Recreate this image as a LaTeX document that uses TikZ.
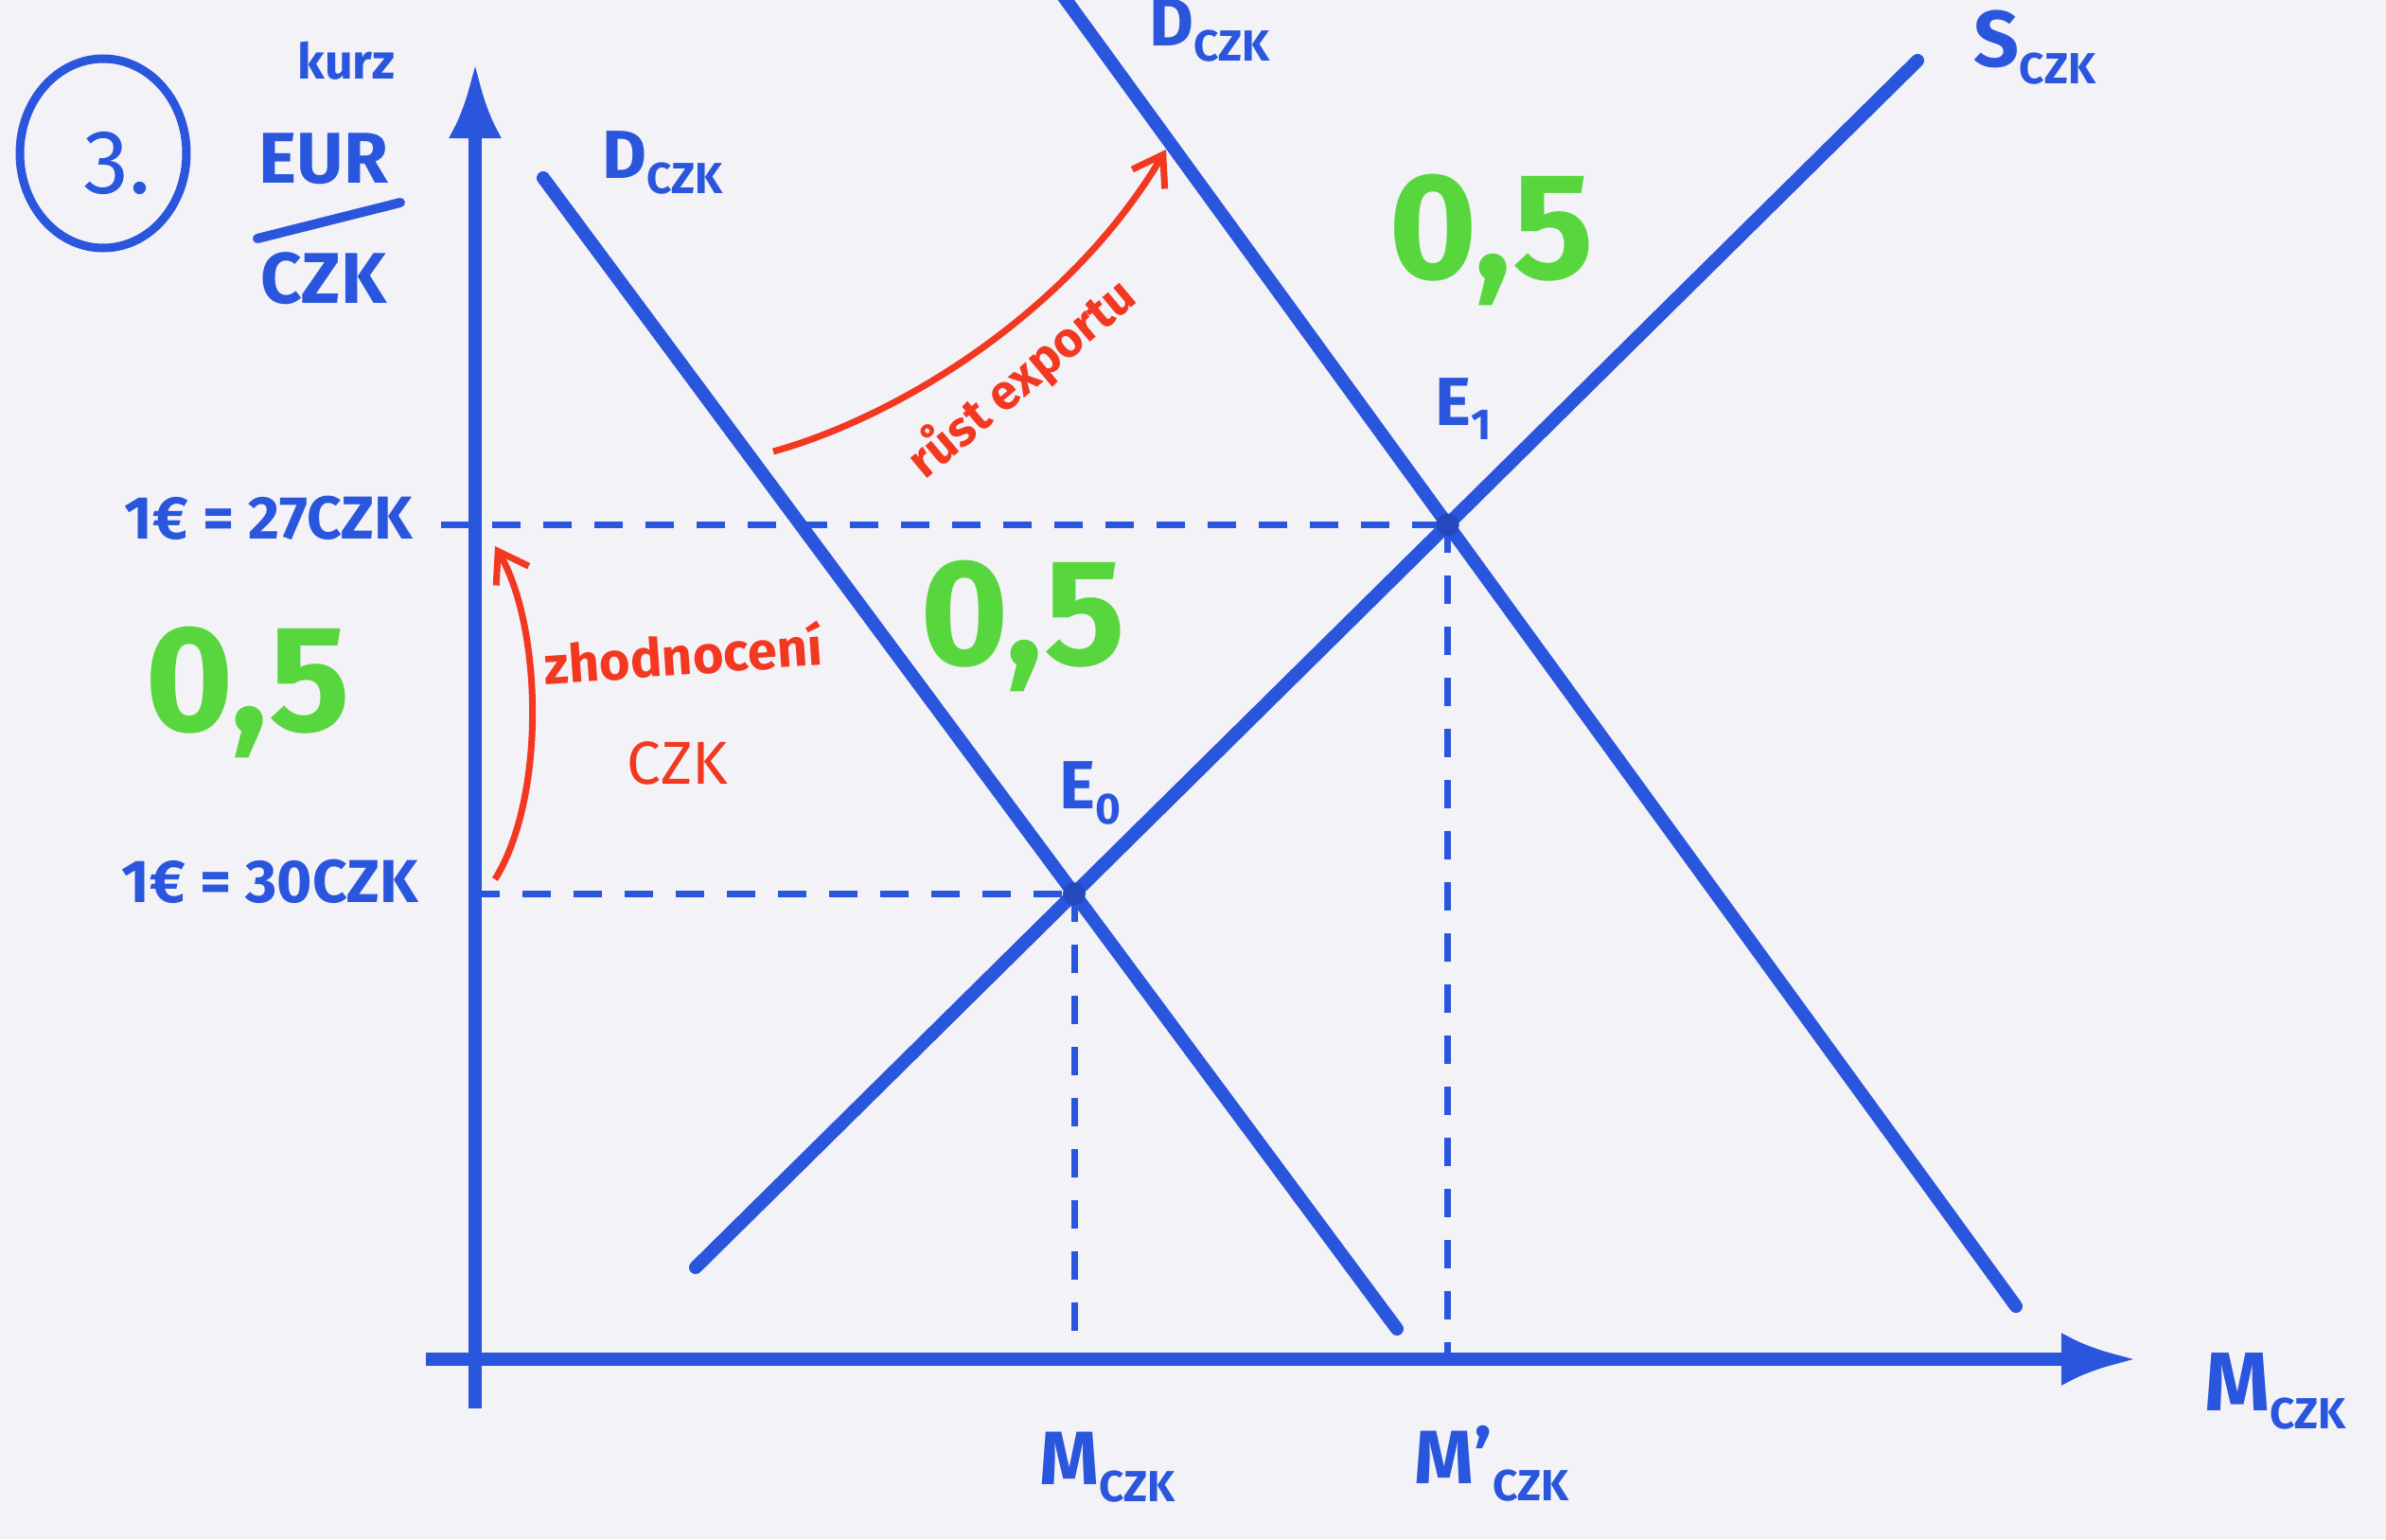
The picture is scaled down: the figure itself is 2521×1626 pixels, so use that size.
\documentclass[tikz,border=0pt]{standalone}
\usepackage{fontspec}
\setmainfont{Fira Sans}
\usetikzlibrary{arrows.meta,calc}
\definecolor{ink}{RGB}{42,86,222}
\definecolor{grn}{RGB}{88,214,62}
\definecolor{rd}{RGB}{242,56,32}
\definecolor{paper}{RGB}{243,242,246}
\newcommand{\lowtxt}[1]{\raisebox{-0.22em}{\fontsize{46}{50}\selectfont #1}}
\begin{document}
\begin{tikzpicture}[x=1pt,y=-1pt,
  curve/.style={ink, line width=14pt, line cap=round},
  axis/.style={ink, line width=14pt, -{Latex[length=80pt,width=56pt]}},
  guide/.style={ink, line width=7pt, dash pattern=on 30pt off 24pt},
  lbl/.style={text=ink, font=\fontsize{72}{80}\selectfont\bfseries, inner sep=0pt},
  half/.style={text=grn, font=\fontsize{160}{170}\selectfont\bfseries, inner sep=0pt},
  note/.style={text=rd, font=\fontsize{56}{60}\selectfont\bfseries, inner sep=0pt},
  redarr/.style={rd, line width=7pt, -{Straight Barb[length=30pt,width=40pt,line width=7pt]}},
  dot/.style={circle, fill=ink!85!black, inner sep=0pt, minimum size=24pt}]
\fill[paper] (0,0) rectangle (2521,1626);
\useasboundingbox (0,0) rectangle (2521,1626);

% axes
\coordinate (ybot) at (502,1488);
\coordinate (ytop) at (502,66);
\coordinate (xl) at (450,1436);
\coordinate (xr) at (2258,1436);
\draw[axis] (ybot) -- (ytop);
\draw[axis] (xl) -- (xr);

% curves
\coordinate (D1) at (574,188);
\coordinate (D2) at (1476,1404);
\coordinate (Dp1) at (1122,-6);
\coordinate (Dp2) at (2130,1380);
\coordinate (S1) at (735,1339);
\coordinate (S2) at (2026,64);
\draw[curve] (D1) -- (D2);
\draw[curve] (Dp1) -- (Dp2);
\draw[curve] (S1) -- (S2);

\coordinate (E0) at (intersection of D1--D2 and S1--S2);
\coordinate (E1) at (intersection of Dp1--Dp2 and S1--S2);

% guides
\coordinate (L27) at (466,0);
\coordinate (L30) at (498,0);
\draw[guide] (E1 -| L27) -- (E1);
\draw[guide] (E0 -| L30) -- (E0);
\draw[guide] (E0) -- (E0 |- xl);
\draw[guide] (E1) -- (E1 |- xl);
\node[dot] (e0dot) at (E0) {};
\node[dot] (e1dot) at (E1) {};

% labels
\node[lbl] (e0) at (1152,838) {E\lowtxt{0}};
\node[lbl] (e1) at (1546,432) {E\lowtxt{1}};
\node[lbl] (dlab) at (700,172) {D\lowtxt{CZK}};
\node[lbl] (dplab) at (1278,32) {D\lowtxt{CZK}};
\node[lbl, font=\fontsize{84}{90}\selectfont\bfseries] (slab) at (2150,50) {S\lowtxt{CZK}};
\node[lbl, font=\fontsize{80}{90}\selectfont\bfseries] (mlab) at (1170,1550) {M\lowtxt{CZK}};
\node[lbl, font=\fontsize{80}{90}\selectfont\bfseries] (mplab) at (1576,1546) {M’\lowtxt{CZK}};
\node[lbl, font=\fontsize{88}{96}\selectfont\bfseries] (xlab) at (2404,1470) {M\lowtxt{CZK}};
\node[lbl, anchor=east, font=\fontsize{64}{70}\selectfont\bfseries] (r27) at (436,547) {1€ = 27CZK};
\node[lbl, anchor=east, font=\fontsize{64}{70}\selectfont\bfseries] (r30) at (442,931) {1€ = 30CZK};

% title and unit
\node[draw=ink, line width=9pt, circle, minimum size=200pt, inner sep=0pt, xscale=0.88] (num) at (109,162) {};
\node[lbl, font=\fontsize{96}{100}\selectfont] (numtxt) at (124,172) {3.};
\node[lbl, font=\fontsize{52}{56}\selectfont\bfseries] (kurz) at (366,64) {kurz};
\node[lbl, font=\fontsize{76}{80}\selectfont\bfseries] (eur) at (342,168) {EUR};
\node[lbl, font=\fontsize{76}{80}\selectfont\bfseries] (czk) at (342,294) {CZK};
\draw[ink, line width=10pt, line cap=round] (272,252) -- (423,214);

% green values
\node[half] (h1) at (262,731) {0,5};
\node[half] (h2) at (1081,661) {0,5};
\node[half] (h3) at (1576,253) {0,5};

% red annotations
\coordinate (a1s) at (523,929);
\coordinate (a1e) at (523,577);
\draw[redarr] (a1s) .. controls (578,840) and (572,660) .. (a1e);
\node[note, rotate=4] (zh) at (722,690) {zhodnocení};
\node[note, font=\fontsize{64}{66}\selectfont] (zczk) at (716,806) {CZK};
\coordinate (a2s) at (817,477);
\coordinate (a2e) at (1232,158);
\draw[redarr] (a2s) .. controls (950,440) and (1130,330) .. (a2e);
\node[note, rotate=40, font=\fontsize{52}{56}\selectfont\bfseries] (rust) at (1080,400) {růst exportu};
\end{tikzpicture}
\end{document}
